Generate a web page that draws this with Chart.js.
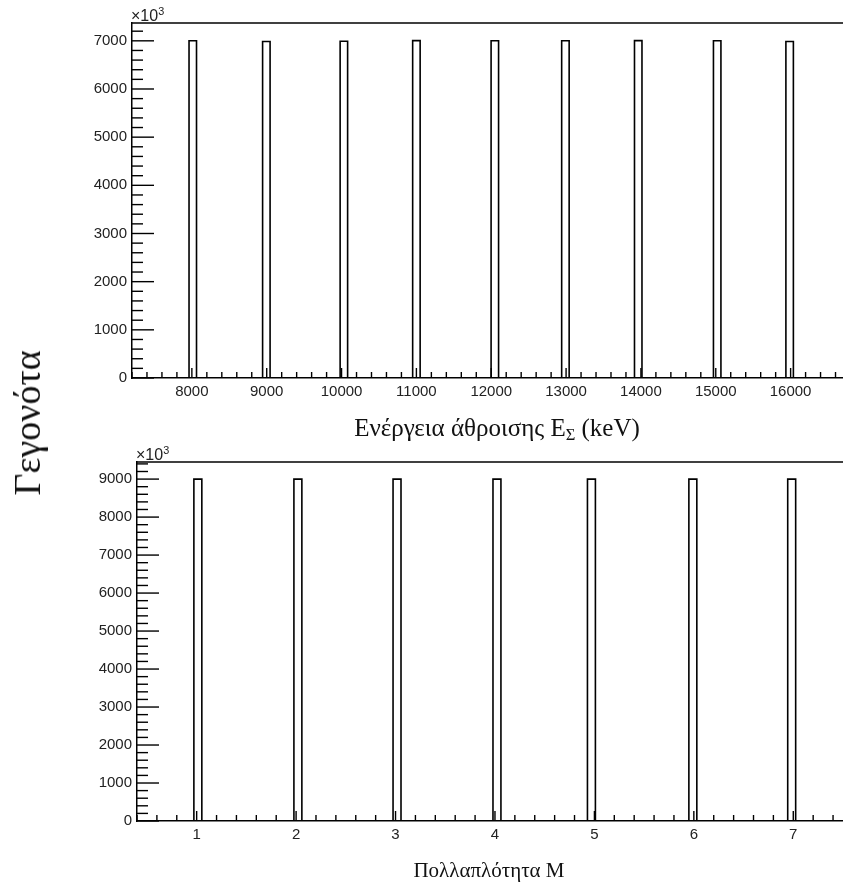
<!DOCTYPE html>
<html>
<head>
<meta charset="utf-8">
<script src="https://cdn.jsdelivr.net/npm/chart.js@4.4.1/dist/chart.umd.min.js"></script>
<style>
  html, body { margin: 0; padding: 0; background: #fff; }
  #wrap { position: relative; width: 843px; height: 886px; overflow: hidden; background: #fff; }
  canvas { position: absolute; left: 0; }
  #cTop { top: 0; }
  #cBot { top: 440px; }
  .title { position: absolute; font-family: "Liberation Serif", "Times New Roman", serif; color: #111; white-space: nowrap; transform: translate(-50%, -50%); line-height: 1; }
  .title sub { font-size: 0.66em; vertical-align: -0.25em; line-height: 0; }
  .exp { position: absolute; font-family: "Liberation Sans", Arial, sans-serif; font-size: 16px; color: #222; white-space: nowrap; line-height: 1; }
  .exp sup { font-size: 0.68em; vertical-align: 0.55em; line-height: 0; }
  #ytitle { position: absolute; left: 27px; top: 423px; font-family: "Liberation Serif", "Times New Roman", serif; font-size: 38px; color: #111; white-space: nowrap; transform: translate(-50%, -50%) rotate(-90deg); line-height: 1; }
</style>
</head>
<body>
<div id="wrap">
  <canvas id="cTop" width="843" height="440"></canvas>
  <canvas id="cBot" width="843" height="446"></canvas>
  <div class="exp" style="left:131px; top:8px;">×10<sup>3</sup></div>
  <div class="exp" style="left:136px; top:447px;">×10<sup>3</sup></div>
  <div class="title" style="left:497px; top:427px; font-size:25px;">Ενέργεια άθροισης E<sub>Σ</sub> (keV)</div>
  <div class="title" style="left:489px; top:870px; font-size:21px;">Πολλαπλότητα M</div>
  <div id="ytitle">Γεγονότα</div>
</div>
<script>
// Sum-energy spectrum: peak bins (keV) and their contents
const energyPeaks  = [8012, 8995, 10031, 11000, 12048, 12991, 13964, 15019, 15987];
const energyCounts = [7000, 6985, 6990, 7005, 7000, 7000, 7005, 7000, 6985];
const energyBinWidth = 100;
const energyTicks = [8000, 9000, 10000, 11000, 12000, 13000, 14000, 15000, 16000];
const energyCountTicks = [0, 1000, 2000, 3000, 4000, 5000, 6000, 7000];

// Multiplicity spectrum: peak bins and their contents
const multPeaks  = [1.012, 2.018, 3.015, 4.02, 4.97, 5.99, 6.984];
const multCounts = [9000, 9000, 9000, 9000, 9000, 9000, 9000];
const multBinWidth = 0.08;
const multTicks = [1, 2, 3, 4, 5, 6, 7];
const multCountTicks = [0, 1000, 2000, 3000, 4000, 5000, 6000, 7000, 8000, 9000];

// Build histogram outline (step line) from bin centres, contents and width
function outline(centres, counts, width) {
  const pts = [];
  centres.forEach((c, i) => {
    const lo = c - width / 2, hi = c + width / 2;
    pts.push({x: lo, y: 0}, {x: lo, y: counts[i]}, {x: hi, y: counts[i]}, {x: hi, y: 0});
  });
  return pts;
}

// Frame top line and inward major/minor tick marks
const frameTicks = {
  id: 'frameTicks',
  afterDatasetsDraw(chart, args, o) {
    const {ctx, chartArea: a, scales: {x, y}} = chart;
    ctx.save();
    ctx.strokeStyle = '#000';
    ctx.lineWidth = 1.5;
    ctx.beginPath();
    ctx.moveTo(a.left - 1, a.top);
    ctx.lineTo(a.right, a.top);
    ctx.stroke();
    ctx.lineWidth = 1.4;
    const yr = Math.round(o.yMajor / o.yMinor);
    for (let i = Math.ceil(y.min / o.yMinor - 1e-9); i * o.yMinor <= y.max + 1e-9; i++) {
      const py = y.getPixelForValue(i * o.yMinor);
      const len = (i % yr === 0) ? 22 : 11;
      ctx.beginPath(); ctx.moveTo(a.left, py); ctx.lineTo(a.left + len, py); ctx.stroke();
    }
    const xr = Math.round(o.xMajor / o.xMinor);
    for (let i = Math.ceil(x.min / o.xMinor - 1e-9); i * o.xMinor <= x.max + 1e-9; i++) {
      const px = x.getPixelForValue(i * o.xMinor);
      const len = (i % xr === 0) ? 10 : 6;
      ctx.beginPath(); ctx.moveTo(px, a.bottom); ctx.lineTo(px, a.bottom - len); ctx.stroke();
    }
    ctx.restore();
  }
};

const tickFont = {family: '"Liberation Sans", Arial, sans-serif', size: 15};

function makeChart(id, pts, xr, yr, xTicks, yTicks, yWidth, xHeight, padTop, tickOpts) {
  return new Chart(document.getElementById(id), {
    type: 'scatter',
    data: {
      datasets: [{
        data: pts,
        showLine: true,
        borderColor: '#000',
        borderWidth: 1.6,
        borderJoinStyle: 'miter',
        pointRadius: 0,
        tension: 0,
        fill: false
      }]
    },
    options: {
      responsive: false,
      animation: false,
      devicePixelRatio: 1,
      layout: {padding: {top: padTop, right: 0, left: 0, bottom: 0}},
      plugins: {legend: {display: false}, tooltip: {enabled: false}, frameTicks: tickOpts},
      scales: {
        x: {
          type: 'linear', min: xr[0], max: xr[1],
          grid: {display: false, drawTicks: false},
          border: {display: true, color: '#000', width: 1.5},
          afterBuildTicks: s => { s.ticks = xTicks.map(v => ({value: v})); },
          afterFit: s => { s.height = xHeight; },
          ticks: {font: tickFont, color: '#222', padding: 5, maxRotation: 0, autoSkip: false,
                  callback: v => String(v)}
        },
        y: {
          type: 'linear', min: yr[0], max: yr[1],
          grid: {display: false, drawTicks: false},
          border: {display: true, color: '#000', width: 1.5},
          afterBuildTicks: s => { s.ticks = yTicks.map(v => ({value: v})); },
          afterFit: s => { s.width = yWidth; },
          ticks: {font: tickFont, color: '#222', padding: 5, autoSkip: false,
                  callback: v => String(v)}
        }
      }
    },
    plugins: [frameTicks]
  });
}

makeChart('cTop', outline(energyPeaks, energyCounts, energyBinWidth),
  [7200, 16700], [0, 7370], energyTicks, energyCountTicks, 132, 62, 23,
  {xMajor: 1000, xMinor: 200, yMajor: 1000, yMinor: 200});

makeChart('cBot', outline(multPeaks, multCounts, multBinWidth),
  [0.4, 7.5], [0, 9450], multTicks, multCountTicks, 137, 65, 22,
  {xMajor: 1, xMinor: 0.2, yMajor: 1000, yMinor: 200});
</script>
</body>
</html>
